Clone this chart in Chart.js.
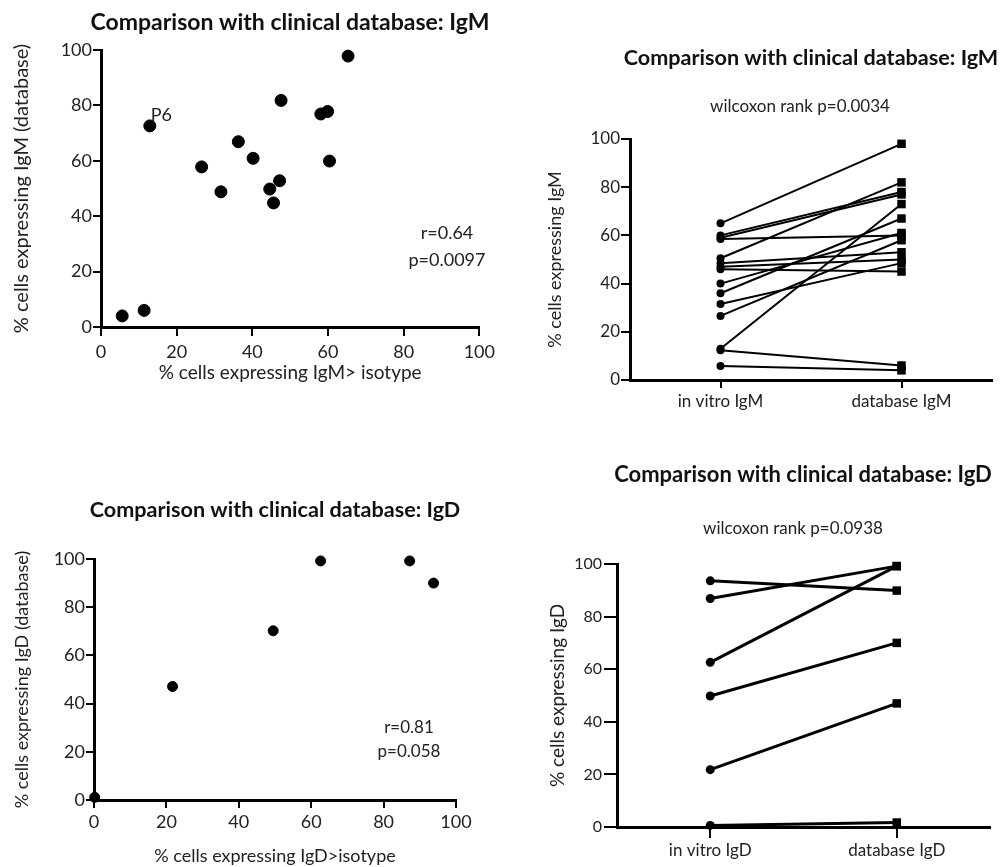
<!DOCTYPE html>
<html>
<head>
<meta charset="utf-8">
<script src="https://cdn.jsdelivr.net/npm/chart.js@4.4.0/dist/chart.umd.min.js"></script>
<style>
  body { margin: 0; background: #fff; width: 1001px; height: 867px; position: relative; overflow: hidden; }
  canvas { position: absolute; }
</style>
</head>
<body>
<canvas id="c1" width="500" height="400" style="left:0;top:0"></canvas>
<canvas id="c2" width="481" height="400" style="left:520px;top:30px"></canvas>
<canvas id="c3" width="500" height="377" style="left:0;top:490px"></canvas>
<canvas id="c4" width="481" height="417" style="left:520px;top:450px"></canvas>
<script>
// IgM: % cells > isotype (in vitro) vs clinical database
var igmInVitro = [5.6, 11.4, 12.9, 26.6, 31.7, 36.3, 40.2, 44.6, 45.6, 47.2, 47.6, 58.1, 59.9, 60.4, 65.3];
var igmDatabase = [4.0, 6.0, 72.6, 57.8, 48.8, 66.9, 60.9, 49.8, 44.8, 52.8, 81.8, 76.9, 77.8, 59.9, 97.8];
// paired plot
var igmPairVitro = [65, 60, 59, 58.5, 50.5, 48.4, 47, 46, 40, 36, 31.5, 26.6, 13, 12.3, 5.8];
var igmPairDb = [98, 78, 77, 60, 82, 53, 50, 45, 61, 67, 48.5, 58, 73, 6, 4];
// IgD
var igdInVitro = [0.2, 21.7, 49.5, 62.6, 87.2, 93.8];
var igdDatabase = [1.1, 47.1, 70.2, 99.2, 99.2, 90];
var igdPairVitro = [0.6, 21.8, 49.8, 62.6, 86.9, 93.6];
var igdPairDb = [1.7, 47, 70, 99.2, 99.2, 89.9];

var igmCats = ["in vitro IgM", "database IgM"];
var igdCats = ["in vitro IgD", "database IgD"];

var FONT = "Lato";
var TXT = "#222";
Chart.defaults.font.family = FONT;
Chart.defaults.color = TXT;

// titles / notes at canvas pixels, or next to a data value when "at" is given
function notes(items) {
  return {
    id: "notes",
    afterDraw: function (chart) {
      var ctx = chart.ctx;
      items.forEach(function (t) {
        var x = t.x, y = t.y;
        if (t.at) {
          x = chart.scales.x.getPixelForValue(t.at[0]) + t.x;
          y = chart.scales.y.getPixelForValue(t.at[1]) + t.y;
        }
        ctx.save();
        ctx.font = (t.bold ? "bold " : "") + t.size + "px " + FONT;
        ctx.fillStyle = t.bold ? "#111" : TXT;
        ctx.textAlign = t.align || "center";
        ctx.textBaseline = "middle";
        ctx.fillText(t.text, x, y);
        ctx.restore();
      });
    }
  };
}

function axis(o) {
  var s = {
    type: "linear",
    min: o.min, max: o.max,
    ticks: { stepSize: 20, font: { size: o.tickSize }, color: TXT, padding: o.pad },
    grid: { drawOnChartArea: false, drawTicks: true, tickLength: o.tl, color: "#000", lineWidth: 2 },
    border: { color: "#000", width: 3 },
    afterFit: o.fit
  };
  if (o.title) {
    s.title = { display: true, text: o.title, font: { size: o.titleSize }, color: TXT, padding: o.titlePad };
  }
  return s;
}

function scatterChart(id, xs, ys, cfg) {
  var pts = xs.map(function (v, i) { return { x: v, y: ys[i] }; });
  return new Chart(document.getElementById(id), {
    type: "scatter",
    data: {
      datasets: [{
        data: pts,
        backgroundColor: "#000",
        borderColor: "#000",
        pointRadius: cfg.r,
        pointHoverRadius: cfg.r,
        clip: false
      }]
    },
    options: {
      responsive: false,
      animation: false,
      devicePixelRatio: 1,
      layout: { padding: cfg.padding },
      plugins: { legend: { display: false }, tooltip: { enabled: false } },
      scales: { x: cfg.x, y: cfg.y }
    },
    plugins: [notes(cfg.texts)]
  });
}

function pairedChart(id, left, right, cats, cfg) {
  var sets = left.map(function (v, i) {
    return {
      data: [{ x: 0, y: v }, { x: 1, y: right[i] }],
      borderColor: "#000",
      backgroundColor: "#000",
      borderWidth: cfg.lw,
      pointStyle: ["circle", "rect"],
      pointRadius: [cfg.r, cfg.sq],
      pointBorderWidth: 0,
      clip: false
    };
  });
  var x = cfg.x;
  x.min = -0.5; x.max = 1.5;
  x.afterBuildTicks = function (s) { s.ticks = [{ value: 0 }, { value: 1 }]; };
  x.ticks.callback = function (v, i) { return cats[i]; };
  return new Chart(document.getElementById(id), {
    type: "line",
    data: { datasets: sets },
    options: {
      responsive: false,
      animation: false,
      devicePixelRatio: 1,
      layout: { padding: cfg.padding },
      plugins: { legend: { display: false }, tooltip: { enabled: false } },
      scales: { x: x, y: cfg.y }
    },
    plugins: [notes(cfg.texts)]
  });
}

// top left
scatterChart("c1", igmInVitro, igmDatabase, {
  r: 6,
  padding: { left: 0, top: 50, right: 17, bottom: 0 },
  x: axis({ min: 0, max: 100, tickSize: 18, pad: 5, tl: 9, title: "% cells expressing IgM> isotype", titleSize: 19,
    titlePad: { top: 0, bottom: 16 }, fit: function (s) { s.height = 73; } }),
  y: axis({ min: 0, max: 100, tickSize: 18, pad: 1, tl: 8, title: "% cells expressing IgM (database)", titleSize: 20,
    titlePad: { top: 10, bottom: 0 }, fit: function (s) { s.width = 101; } }),
  texts: [
    { text: "Comparison with clinical database: IgM", x: 290, y: 23, size: 23, bold: true },
    { text: "r=0.64", x: 447, y: 233, size: 18 },
    { text: "p=0.0097", x: 447, y: 260, size: 18 },
    { text: "P6", at: [12.9, 72.6], x: 1, y: -11, size: 18, align: "left" }
  ]
});

// top right
pairedChart("c2", igmPairVitro, igmPairDb, igmCats, {
  r: 4, sq: 6, lw: 2,
  padding: { left: 0, top: 109, right: 9, bottom: 0 },
  x: axis({ tickSize: 17, pad: 3, tl: 8, fit: function (s) { s.height = 50; } }),
  y: axis({ min: 0, max: 100, tickSize: 17, pad: 1, tl: 9, title: "% cells expressing IgM", titleSize: 18,
    titlePad: { top: 24, bottom: 0 }, fit: function (s) { s.width = 110; } }),
  texts: [
    { text: "Comparison with clinical database: IgM", x: 291, y: 28, size: 21.6, bold: true },
    { text: "wilcoxon rank p=0.0034", x: 280, y: 77, size: 17 }
  ]
});

// bottom left
scatterChart("c3", igdInVitro, igdDatabase, {
  r: 5,
  padding: { left: 0, top: 69, right: 44, bottom: 0 },
  x: axis({ min: 0, max: 100, tickSize: 18, pad: 3, tl: 8, title: "% cells expressing IgD>isotype", titleSize: 18,
    titlePad: { top: 0, bottom: 0 }, fit: function (s) { s.height = 67; } }),
  y: axis({ min: 0, max: 100, tickSize: 18, pad: 1, tl: 8, title: "% cells expressing IgD (database)", titleSize: 18,
    titlePad: { top: 11, bottom: 0 }, fit: function (s) { s.width = 94; } }),
  texts: [
    { text: "Comparison with clinical database: IgD", x: 275, y: 20, size: 21.6, bold: true },
    { text: "r=0.81", x: 409, y: 238, size: 17 },
    { text: "p=0.058", x: 409, y: 262, size: 17 }
  ]
});

// bottom right
pairedChart("c4", igdPairVitro, igdPairDb, igdCats, {
  r: 4.5, sq: 6, lw: 3,
  padding: { left: 0, top: 114, right: 11, bottom: 0 },
  x: axis({ tickSize: 17, pad: 2, tl: 11, fit: function (s) { s.height = 40; } }),
  y: axis({ min: 0, max: 100, tickSize: 16, pad: 2, tl: 13, title: "% cells expressing IgD", titleSize: 19,
    titlePad: { top: 26, bottom: 0 }, fit: function (s) { s.width = 97; } }),
  texts: [
    { text: "Comparison with clinical database: IgD", x: 283, y: 25, size: 22, bold: true },
    { text: "wilcoxon rank p=0.0938", x: 273, y: 79, size: 17 }
  ]
});
</script>
</body>
</html>
